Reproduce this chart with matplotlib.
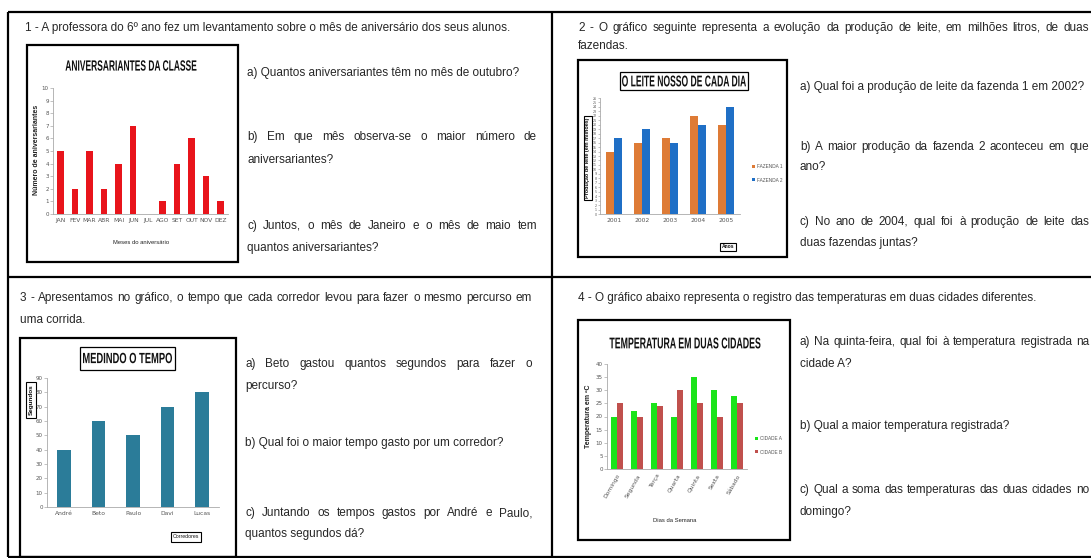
import matplotlib
matplotlib.use("Agg")
import matplotlib.pyplot as plt
from matplotlib.patches import Rectangle, PathPatch
from matplotlib.textpath import TextPath
from matplotlib.font_manager import FontProperties
from matplotlib.transforms import Affine2D

W, H = 1091, 558

# Data
meses = ["JAN", "FEV", "MAR", "ABR", "MAI", "JUN", "JUL", "AGO", "SET", "OUT", "NOV", "DEZ"]
aniversariantes = [5, 2, 5, 2, 4, 7, 0, 1, 4, 6, 3, 1]

anos = ["2001", "2002", "2003", "2004", "2005"]
fazenda1 = [14, 16, 17, 22, 20]
fazenda2 = [17, 19, 16, 20, 24]

corredores = ["André", "Beto", "Paulo", "Davi", "Lucas"]
segundos = [40, 60, 50, 70, 80]

dias = ["Domingo", "Segunda", "Terça", "Quarta", "Quinta", "Sexta", "Sábado"]
cidade_a = [20, 22, 25, 20, 35, 30, 28]
cidade_b = [25, 20, 24, 30, 25, 20, 25]

FAMILY = ["Liberation Sans", "DejaVu Sans"]
TEXT = dict(family=FAMILY, fontsize=8.5, color="#262626")

fig = plt.figure(figsize=(W / 100, H / 100), dpi=100)
fig.patch.set_facecolor("white")

# page layer in pixel coordinates
bg = fig.add_axes([0, 0, 1, 1])
bg.set_xlim(0, W)
bg.set_ylim(H, 0)
bg.axis("off")

# table frame
for xs, ys in [([8, 8], [12, 557]), ([552, 552], [12, 557]), ([8, W + 5], [12, 12]),
               ([8, W + 5], [277, 277]), ([8, W + 5], [557, 557])]:
    bg.plot(xs, ys, color="black", lw=1.6, solid_capstyle="butt")

renderer = fig.canvas.get_renderer()


def line(x, y, s):
    bg.text(x, y, s, va="center", ha="left", **TEXT)


def justify(x0, x1, y, s):
    words = s.split()
    objs = [bg.text(0, y, w, va="center", ha="left", **TEXT) for w in words]
    widths = [o.get_window_extent(renderer).width for o in objs]
    gap = (x1 - x0 - sum(widths)) / (len(words) - 1)
    x = x0
    for o, w in zip(objs, widths):
        o.set_x(x)
        x += w + gap


def fit_title(s, cx, cy, width, height, frame=None):
    # bold caps squeezed into a given width/height (condensed look)
    tp = TextPath((0, 0), s, size=10, prop=FontProperties(family="Liberation Sans", weight="bold"))
    ext = tp.get_extents()
    tr = (Affine2D().translate(-(ext.x0 + ext.width / 2), -(ext.y0 + ext.height / 2))
          .scale(width / ext.width, -height / ext.height).translate(cx, cy))
    bg.add_patch(PathPatch(tr.transform_path(tp), fc="#111111", ec="none", lw=0))
    if frame:
        x0, y0, x1, y1 = frame
        bg.add_patch(Rectangle((x0, y0), x1 - x0, y1 - y0, fill=False, ec="black", lw=0.9))


def chart_box(x0, y0, x1, y1):
    bg.add_patch(Rectangle((x0, y0), x1 - x0, y1 - y0, fill=False, ec="black", lw=1.6))


def add_chart(x0, y0, x1, y1):
    ax = fig.add_axes([x0 / W, 1 - y1 / H, (x1 - x0) / W, (y1 - y0) / H])
    ax.set_facecolor("none")
    for s in ["top", "right"]:
        ax.spines[s].set_visible(False)
    for s in ["left", "bottom"]:
        ax.spines[s].set_color("#aaaaaa")
        ax.spines[s].set_linewidth(0.6)
    ax.tick_params(axis="y", length=2, width=0.5, color="#aaaaaa", labelsize=4,
                   labelcolor="#555555", pad=1)
    ax.tick_params(axis="x", length=0, labelsize=4.3, labelcolor="#555555", pad=3)
    return ax


def boxed(x, y, s, size, weight="bold", rotation=0, pad=0.25):
    bg.text(x, y, s, ha="center", va="center", fontsize=size, weight=weight,
            rotation=rotation, family=FAMILY, color="#111111",
            bbox=dict(boxstyle=f"square,pad={pad}", fc="white", ec="black", lw=0.8))


def small_legend(ax, x, y):
    ax.legend(loc="center left", bbox_to_anchor=(x / W, 1 - y / H), bbox_transform=fig.transFigure,
              frameon=False, prop=dict(family=FAMILY, size=3.4), handlelength=0.6,
              handleheight=0.6, handletextpad=0.4, labelspacing=1.7, labelcolor="#555555",
              borderaxespad=0, borderpad=0)


# ---- 1: aniversariantes ----
line(25, 28, "1 - A professora do 6º ano fez um levantamento sobre o mês de aniversário dos seus alunos.")
chart_box(27, 45, 238, 262)
ax1 = add_chart(53, 88, 228, 214)
ax1.bar(range(len(meses)), aniversariantes, width=0.45, color="#E8141B")
ax1.set_xlim(-0.5, len(meses) - 0.5)
ax1.set_ylim(0, 10)
ax1.set_yticks(range(0, 11))
ax1.set_xticks(range(len(meses)))
ax1.set_xticklabels(meses)
fit_title("ANIVERSARIANTES DA CLASSE", 131, 65.5, 131, 10.5)
bg.text(141, 242, "Meses do aniversário", ha="center", va="center", fontsize=4.2,
        family=FAMILY, color="#222222")
bg.text(37, 150, "Número de aniversariantes", ha="center", va="center", fontsize=5,
        weight="bold", rotation=90, family=FAMILY, color="#222222")

line(247, 73, "a) Quantos aniversariantes têm no mês de outubro?")
justify(247, 537, 137, "b) Em que mês observa-se o maior número de")
line(247, 160, "aniversariantes?")
justify(247, 537, 226, "c) Juntos, o mês de Janeiro e o mês de maio tem")
line(247, 248, "quantos aniversariantes?")

# ---- 2: leite ----
justify(578, 1089, 28, "2 - O gráfico seguinte representa a evolução da produção de leite, em milhões litros, de duas")
line(578, 46, "fazendas.")
chart_box(578, 60, 787, 257)
ax2 = add_chart(600, 98, 740, 214)
x = list(range(len(anos)))
ax2.bar([i - 0.145 for i in x], fazenda1, width=0.29, color="#DE7B36", label="FAZENDA 1")
ax2.bar([i + 0.145 for i in x], fazenda2, width=0.29, color="#1F6FC6", label="FAZENDA 2")
ax2.set_xlim(-0.5, len(anos) - 0.5)
ax2.set_ylim(0, 26)
ax2.set_yticks(range(0, 27))
ax2.tick_params(axis="y", labelsize=2.3, length=1.5, pad=0.8)
ax2.set_xticks(x)
ax2.set_xticklabels(anos)
small_legend(ax2, 752, 173.5)
fit_title("O LEITE NOSSO DE CADA DIA", 684, 81, 124, 11, frame=(620, 72, 748, 90))
boxed(728, 247, "Anos", 3.6, pad=0.35)
boxed(588, 158, "Produção de leite (em milhões)", 3.9, rotation=90, pad=0.25)

line(800, 87, "a) Qual foi a produção de leite da fazenda 1 em 2002?")
justify(800, 1089, 147, "b) A maior produção da fazenda 2 aconteceu em que")
line(800, 167, "ano?")
justify(800, 1089, 222, "c) No ano de 2004, qual foi à produção de leite das")
line(800, 243, "duas fazendas juntas?")

# ---- 3: corredores ----
justify(20, 532, 298, "3 - Apresentamos no gráfico, o tempo que cada corredor levou para fazer o mesmo percurso em")
line(20, 320, "uma corrida.")
chart_box(20, 338, 236, 557)
ax3 = add_chart(47, 378, 219, 507)
ax3.bar(range(len(corredores)), segundos, width=0.4, color="#2B7C99")
ax3.set_xlim(-0.5, len(corredores) - 0.5)
ax3.set_ylim(0, 90)
ax3.set_yticks(range(0, 91, 10))
ax3.set_xticks(range(len(corredores)))
ax3.set_xticklabels(corredores)
fit_title("MEDINDO O TEMPO", 127.5, 358, 89, 10.5, frame=(80, 347, 175, 370))
boxed(186, 537, "Corredores", 3.8, weight="normal", pad=0.4)
boxed(31, 400, "Segundos", 4.6, rotation=90, pad=0.35)

justify(245, 532, 364, "a) Beto gastou quantos segundos para fazer o")
line(245, 386, "percurso?")
line(245, 443, "b) Qual foi o maior tempo gasto por um corredor?")
justify(245, 532, 513, "c) Juntando os tempos gastos por André e Paulo,")
line(245, 534, "quantos segundos dá?")

# ---- 4: temperaturas ----
line(578, 298, "4 - O gráfico abaixo representa o registro das temperaturas em duas cidades diferentes.")
chart_box(578, 320, 790, 540)
ax4 = add_chart(607, 364, 747, 469)
x = list(range(len(dias)))
ax4.bar([i - 0.15 for i in x], cidade_a, width=0.3, color="#1AE41A", label="CIDADE A")
ax4.bar([i + 0.15 for i in x], cidade_b, width=0.3, color="#C0504D", label="CIDADE B")
ax4.set_xlim(-0.5, len(dias) - 0.5)
ax4.set_ylim(0, 40)
ax4.set_yticks(range(0, 41, 5))
ax4.set_xticks(x)
ax4.set_xticklabels(dias, rotation=60, ha="right", rotation_mode="anchor")
small_legend(ax4, 755, 445.5)
fit_title("TEMPERATURA EM DUAS CIDADES", 685, 343, 151, 11)
bg.text(675, 520, "Dias da Semana", ha="center", va="center", fontsize=4.2,
        family=FAMILY, color="#222222")
bg.text(588, 416, "Temperatura em ºC", ha="center", va="center", fontsize=5,
        weight="bold", rotation=90, family=FAMILY, color="#222222")

justify(800, 1089, 342, "a) Na quinta-feira, qual foi à temperatura registrada na")
line(800, 364, "cidade A?")
line(800, 426, "b) Qual a maior temperatura registrada?")
justify(800, 1089, 490, "c) Qual a soma das temperaturas das duas cidades no")
line(800, 512, "domingo?")

fig.savefig("out.png", dpi=100)
